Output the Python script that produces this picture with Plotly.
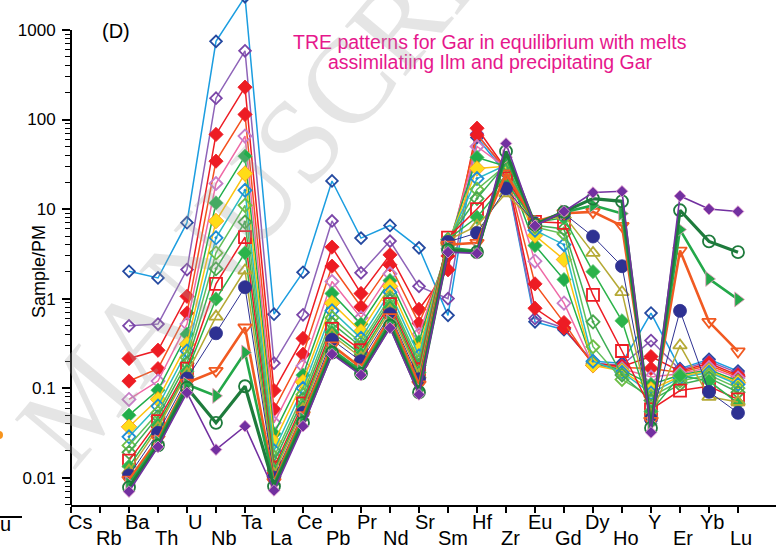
import numpy as np
import plotly.graph_objects as go

# Element order on the x axis (primitive-mantle normalised spider diagram)
elements = ["Cs", "Rb", "Ba", "Th", "U", "Nb", "Ta", "La", "Ce", "Pb", "Pr", "Nd",
            "Sr", "Sm", "Hf", "Zr", "Eu", "Gd", "Dy", "Ho", "Y", "Er", "Yb", "Lu"]
measured = ["Ba", "Th", "U", "Nb", "Ta", "La", "Ce", "Pb", "Pr", "Nd", "Sr", "Sm",
            "Hf", "Zr", "Eu", "Gd", "Dy", "Ho", "Y", "Er", "Yb", "Lu"]

# Sample/PM values, one list per modelled garnet composition (Ba ... Lu)
gar_01 = [2.02, 1.70, 7.05, 747, 2350, 0.67, 1.97, 20.6, 4.74, 6.56, 3.69, 0.65, 63, 25, 0.55, 0.45, 0.20, 0.19, 0.69, 0.165, 0.21, 0.155]
gar_02 = [0.497, 0.519, 2.11, 173, 586, 0.19, 0.66, 7.36, 1.94, 4.39, 1.37, 1.0, 70, 26, 0.60, 0.47, 0.19, 0.18, 0.34, 0.16, 0.20, 0.148]
gar_03 = [0.214, 0.265, 1.06, 68.2, 230, 0.094, 0.359, 3.76, 1.14, 3.08, 0.76, 2.1, 80, 28, 0.78, 0.47, 0.19, 0.175, 0.225, 0.155, 0.19, 0.14]
gar_04 = [0.120, 0.165, 0.69, 34.3, 114, 0.058, 0.239, 2.30, 0.81, 2.38, 0.53, 3.0, 67, 28, 1.46, 0.54, 0.18, 0.17, 0.166, 0.15, 0.18, 0.135]
gar_05 = [0.0748, 0.120, 0.52, 19.3, 65.3, 0.041, 0.177, 1.55, 0.61, 1.89, 0.40, 3.6, 50, 29, 2.62, 0.89, 0.18, 0.165, 0.133, 0.145, 0.17, 0.13]
gar_06 = [0.0499, 0.095, 0.40, 11.7, 39, 0.031, 0.140, 1.14, 0.52, 1.59, 0.33, 3.9, 37.7, 30, 3.92, 1.63, 0.19, 0.16, 0.110, 0.14, 0.16, 0.12]
gar_07 = [0.037, 0.075, 0.31, 7.36, 24.9, 0.025, 0.117, 0.89, 0.43, 1.37, 0.27, 4.1, 28.4, 30, 5.07, 2.73, 0.18, 0.155, 0.097, 0.135, 0.155, 0.115]
gar_08 = [0.0286, 0.063, 0.26, 4.78, 16.2, 0.020, 0.0996, 0.73, 0.36, 1.18, 0.23, 4.3, 21.9, 31, 5.8, 4.0, 0.20, 0.15, 0.088, 0.13, 0.15, 0.11]
gar_09 = [0.0229, 0.053, 0.22, 3.24, 11.0, 0.017, 0.085, 0.61, 0.32, 1.03, 0.20, 4.5, 16.6, 31, 6.3, 5.3, 0.29, 0.125, 0.080, 0.12, 0.14, 0.10]
gar_10 = [0.0192, 0.048, 0.19, 2.15, 7.17, 0.015, 0.075, 0.53, 0.29, 0.95, 0.18, 4.6, 13.1, 32, 6.6, 6.0, 0.55, 0.14, 0.073, 0.11, 0.13, 0.09]
gar_11 = [0.0155, 0.0428, 0.165, 1.46, 4.87, 0.013, 0.0675, 0.46, 0.265, 0.87, 0.163, 4.8, 10, 22, 7.2, 7.0, 1.10, 0.26, 0.058, 0.094, 0.105, 0.075]
gar_12 = [0.0134, 0.039, 0.155, 0.99, 3.24, 0.012, 0.062, 0.42, 0.24, 0.80, 0.15, 4.6, 8.1, 20, 7.1, 8.0, 2.0, 0.565, 0.055, 0.138, 0.12, 0.068]
gar_13 = [0.012, 0.036, 0.145, 0.63, 2.06, 0.011, 0.058, 0.39, 0.22, 0.74, 0.14, 4.5, 6.5, 15, 7.0, 8.5, 3.24, 1.18, 0.050, 0.30, 0.080, 0.07]
gar_14 = [0.0106, 0.0317, 0.128, 0.41, 1.34, 0.010, 0.053, 0.347, 0.20, 0.67, 0.126, 4.3, 5.4, 17, 6.9, 8.9, 4.94, 2.30, 0.045, 0.73, 0.091, 0.053]
gar_15 = [0.0095, 0.027, 0.115, 0.156, 0.476, 0.009, 0.050, 0.30, 0.17, 0.62, 0.11, 4.0, 4.2, 25, 7.2, 9.0, 9.3, 6.5, 0.043, 3.44, 0.55, 0.257]
gar_16 = [0.0085, 0.025, 0.110, 0.082, 0.250, 0.0085, 0.045, 0.27, 0.155, 0.55, 0.095, 3.7, 3.4, 38, 6.8, 9.2, 11.0, 8.9, 0.040, 5.9, 1.66, 0.98]
gar_17 = [0.0078, 0.023, 0.101, 0.041, 0.105, 0.008, 0.041, 0.25, 0.145, 0.50, 0.09, 3.5, 3.3, 44, 6.7, 9.3, 13.1, 12.2, 0.036, 9.7, 4.35, 3.3]
gar_18 = [0.0070, 0.0221, 0.089, 0.0206, 0.0376, 0.0072, 0.0376, 0.24, 0.14, 0.47, 0.085, 3.3, 3.2, 54, 6.5, 9.4, 15.3, 15.8, 0.032, 14.0, 10, 9.4]

series = [gar_01, gar_02, gar_03, gar_04, gar_05, gar_06, gar_07, gar_08, gar_09,
          gar_10, gar_11, gar_12, gar_13, gar_14, gar_15, gar_16, gar_17, gar_18]

# line colour, marker symbol, marker fill, marker edge, marker size, line width
styles = [
    ("#1b9de0", "diamond-open", "#2449a0", "#2449a0", 9, 1.5),
    ("#8e63b8", "diamond-open", "#7a45a8", "#7a45a8", 9, 1.5),
    ("#ed1c24", "diamond", "#ed1c24", "#ed1c24", 11, 1.5),
    ("#f4511e", "diamond", "#ed1c24", "#ed1c24", 11, 1.5),
    ("#ef6aa6", "diamond-open", "#c77dc8", "#c77dc8", 10, 1.5),
    ("#21ad4b", "diamond", "#21ad4b", "#5cc46e", 11, 1.5),
    ("#fcc20f", "diamond", "#ffdc17", "#f7941d", 12, 1.5),
    ("#2bbcc4", "diamond-open-dot", "#1f8dd6", "#1f8dd6", 10, 1.5),
    ("#62c05a", "diamond-open", "#6dbe45", "#6dbe45", 10, 1.5),
    ("#3fae55", "diamond-open-dot", "#4aa84e", "#4aa84e", 10, 1.5),
    ("#ed1c24", "square-open", "#ed1c24", "#ed1c24", 12, 1.5),
    ("#2cb34a", "diamond", "#2cb34a", "#5cc46e", 11, 1.5),
    ("#b5a935", "triangle-up-open", "#b5a935", "#b5a935", 12, 1.5),
    ("#2e3192", "circle", "#2e3192", "#2e3192", 13, 1.0),
    ("#f15a22", "triangle-down-open", "#f15a22", "#f15a22", 12, 2.6),
    ("#23a849", "triangle-right", "#23a849", "#f49ac1", 13, 2.6),
    ("#1e7b3c", "circle-open", "#1e7b3c", "#1e7b3c", 12, 3.2),
    ("#7230a0", "diamond", "#7230a0", "#e7a0d0", 9, 1.6),
]

xpos = [elements.index(e) for e in measured]

fig = go.Figure()
for vals, (lc, sym, fc, ec, ms, lw) in zip(series, styles):
    open_sym = "open" in sym
    fig.add_trace(go.Scatter(
        x=xpos, y=vals, mode="lines+markers",
        line=dict(color=lc, width=lw),
        marker=dict(symbol=sym, size=ms, color=fc,
                    line=dict(color=ec, width=1.8 if open_sym else 0.8)),
        showlegend=False, cliponaxis=True))

# Plot geometry
L_M, B_M, W, H = 71, 51, 776, 556
plot_w, plot_h = W - L_M, H - B_M
ymin, ymax = -2.305, 3.335


def px_x(px):
    return (px - L_M) / plot_w


def px_y(py):
    return 1 - py / plot_h


major = [0.01, 0.1, 1, 10, 100, 1000]
minor_vals = [m * 10.0 ** e for e in range(-3, 3) for m in range(2, 10)]
minor_vals = [v for v in minor_vals if 10 ** ymin < v < 1000]

fig.update_layout(
    width=W, height=H,
    margin=dict(l=L_M, r=0, t=0, b=B_M),
    paper_bgcolor="white", plot_bgcolor="white",
    font=dict(family="Liberation Sans, Arial, sans-serif", color="black"),
    xaxis=dict(range=[0, plot_w / 29.0], tickvals=list(range(len(elements))),
               ticktext=[""] * len(elements), ticks="outside", ticklen=6,
               tickwidth=1.5, tickcolor="black", showline=True, linecolor="black",
               linewidth=2, showgrid=False, zeroline=False),
    yaxis=dict(type="log", range=[ymin, ymax], tickvals=major,
               ticktext=["0.01", "0.1", "1", "10", "100", "1000"],
               ticks="outside", ticklen=8, tickwidth=1.5, tickcolor="black",
               ticklabelstandoff=3,
               tickfont=dict(size=17, family="Liberation Sans, Arial"),
               minor=dict(tickvals=minor_vals, ticks="outside", ticklen=5,
                          tickwidth=1.2, tickcolor="black", showgrid=False),
               showline=False, showgrid=False, zeroline=False),
)

# y axis line stops at the 1000 tick
fig.add_shape(type="line", xref="paper", yref="paper", x0=0, x1=0,
              y0=0, y1=(3 - ymin) / (ymax - ymin),
              line=dict(color="black", width=2))

# Staggered element labels
for i, el in enumerate(elements):
    row = i % 2
    fig.add_annotation(x=i, y=0, xref="x", yref="paper", text=el,
                       showarrow=False, yanchor="middle",
                       xshift=9 - 0.28 * i, yshift=-17 if row == 0 else -33,
                       font=dict(size=20, family="Liberation Sans Narrow, Arial Narrow, Liberation Sans"))

fig.add_annotation(x=px_x(27), y=px_y(272), xref="paper", yref="paper",
                   text="Sample/PM", textangle=-90, showarrow=False,
                   font=dict(size=18))
fig.add_annotation(x=px_x(100), y=px_y(18), xref="paper", yref="paper",
                   text="(D)", showarrow=False, font=dict(size=20))
title_lines = ["TRE patterns for Gar in equilibrium with melts",
               "assimilatiing Ilm and precipitating Gar"]
for line_txt, cy in zip(title_lines, [42, 62]):
    fig.add_annotation(x=px_x(490), y=px_y(cy), xref="paper", yref="paper",
                       text=line_txt, showarrow=False, xanchor="center",
                       yanchor="middle", font=dict(size=19.5, color="#e6178c"))

# faint diagonal stamp behind the data
fig.add_annotation(x=px_x(290), y=px_y(150), xref="paper", yref="paper",
                   text="MANUSCRIPT", textangle=-50, showarrow=False,
                   xanchor="center", yanchor="middle",
                   font=dict(size=120, family="Liberation Serif, Times New Roman",
                             color="rgba(160,160,160,0.28)"))

# edge of the neighbouring panel
fig.add_shape(type="line", xref="paper", yref="paper",
              x0=px_x(0), x1=px_x(22), y0=px_y(517), y1=px_y(517),
              line=dict(color="black", width=2))
fig.add_shape(type="circle", xref="paper", yref="paper",
              x0=px_x(-5), x1=px_x(3), y0=px_y(439), y1=px_y(431),
              fillcolor="#f7941d", line=dict(width=0))
fig.add_annotation(x=px_x(5), y=px_y(537), xref="paper", yref="paper",
                   text="u", showarrow=False, xanchor="center",
                   font=dict(size=20, family="Liberation Sans Narrow, Arial Narrow, Liberation Sans"))

fig.write_html("out.html")
